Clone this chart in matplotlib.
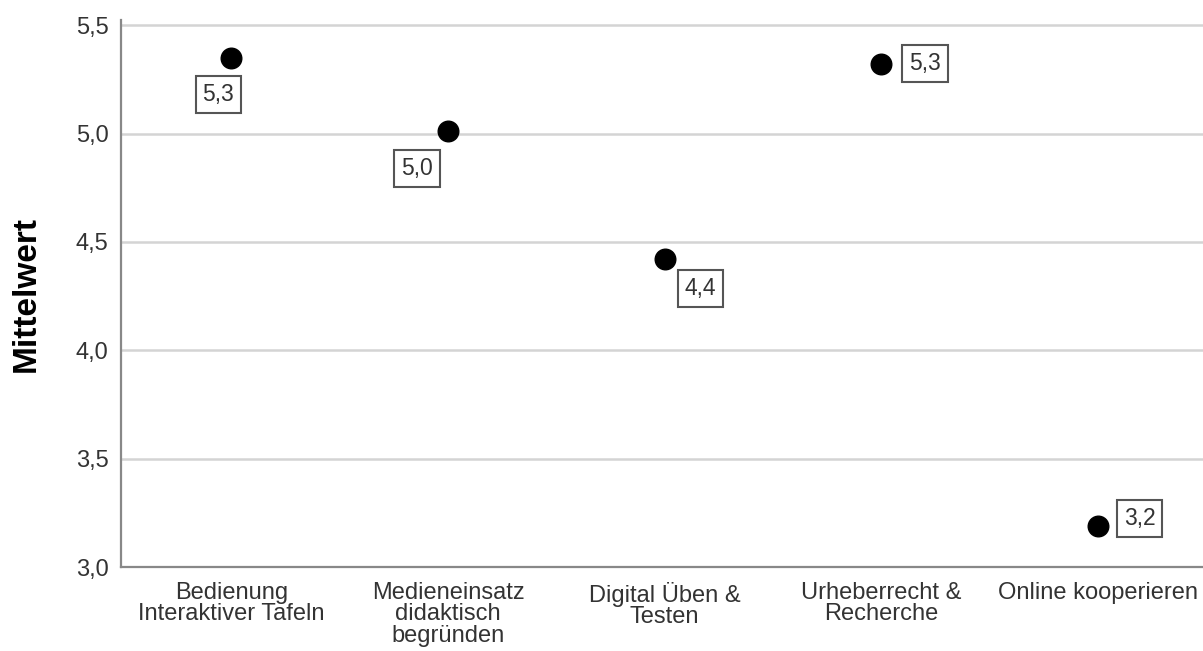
import matplotlib
matplotlib.use("Agg")
from matplotlib import pyplot as plt
from matplotlib.ticker import FuncFormatter

# data
categories = ["Bedienung\nInteraktiver Tafeln",
              "Medieneinsatz\ndidaktisch\nbegründen",
              "Digital Üben &\nTesten",
              "Urheberrecht &\nRecherche",
              "Online kooperieren"]
means = [5.35, 5.01, 4.42, 5.32, 3.19]
mean_labels = ["5,3", "5,0", "4,4", "5,3", "3,2"]
# label offsets (pixels) relative to each point
label_dx = [-13, -31, 36, 44, 42]
label_dy = [-37, -37, -29, 1, 7]

plt.rcParams['font.family'] = ['Liberation Sans', 'DejaVu Sans']

fig = plt.figure(figsize=(12.03, 6.51), dpi=100)
ax = fig.add_axes([0.1006, 0.129, 0.9, 0.84])

x = list(range(1, len(categories) + 1))
ax.set_xlim(0.49, 5.49)
ax.set_ylim(3.0, 5.523)

ax.set_yticks([3.0, 3.5, 4.0, 4.5, 5.0, 5.5])
ax.yaxis.set_major_formatter(FuncFormatter(lambda v, p: f"{v:.1f}".replace(".", ",")))
ax.grid(axis='y', color='#d4d4d4', linewidth=1.8)
ax.set_axisbelow(True)

ax.scatter(x, means, s=220, color='black', zorder=3)

for xi, yi, lab, dx, dy in zip(x, means, mean_labels, label_dx, label_dy):
    ax.annotate(lab, (xi, yi), xytext=(dx * 0.72, dy * 0.72), textcoords='offset points',
                ha='center', va='center', fontsize=16.5, color='#333333',
                bbox=dict(boxstyle='square,pad=0.3', facecolor='white',
                          edgecolor='#555555', linewidth=1.5))

ax.set_xticks(x)
ax.set_xticklabels(categories, fontsize=17, color='#222222', linespacing=0.95)
ax.tick_params(axis='both', length=0, labelsize=17, labelcolor='#333333')
ax.tick_params(axis='x', pad=11)
ax.tick_params(axis='y', pad=9)

for side in ['top', 'right']:
    ax.spines[side].set_visible(False)
for side in ['left', 'bottom']:
    ax.spines[side].set_color('#888888')
    ax.spines[side].set_linewidth(1.6)

ax.set_ylabel("Mittelwert", fontsize=24, fontweight='bold', fontstretch='normal',
              color='black')
ax.yaxis.set_label_coords(-0.073, 0.5)

plt.savefig("out.png", dpi=100)
